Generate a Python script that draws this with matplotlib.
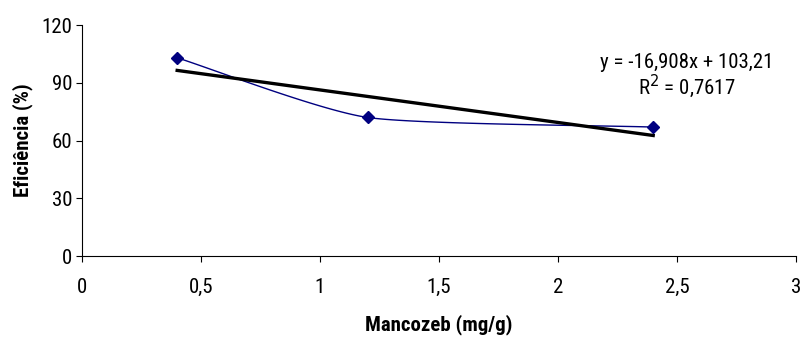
"""Eficiência vs Mancozeb, with Excel-style smoothed line and linear trendline."""
import numpy as np
import matplotlib.pyplot as plt
from matplotlib import font_manager

dose = [0.4, 1.2, 2.4]
eficiencia = [103, 72, 67]
slope, intercept = -16.908, 103.21
r2_label = "0,7617"

x_ticks = [0, 0.5, 1, 1.5, 2, 2.5, 3]
x_tick_labels = ["0", "0,5", "1", "1,5", "2", "2,5", "3"]
y_ticks = [0, 30, 60, 90, 120]

names = {f.name for f in font_manager.fontManager.ttflist}
narrow = next((n for n in ("Liberation Sans Narrow", "Arial Narrow", "Roboto Condensed")
               if n in names), None)
if narrow:
    plt.rcParams["font.family"] = [narrow, "DejaVu Sans"]
    fs_tick, fs_note, fs_label = 15, 15, 15
else:
    plt.rcParams["font.family"] = ["Liberation Sans", "DejaVu Sans"]
    fs_tick, fs_note, fs_label = 12, 13, 13


def excel_smooth(xs, ys, n=40, k=0.6):
    # bezier smoothing like Excel's "smoothed line" (damped inner tangents)
    p = np.column_stack([xs, ys]).astype(float)
    pts = [p[0]]
    for i in range(len(p) - 1):
        if i > 0:
            c1 = p[i] + (p[i + 1] - p[i - 1]) / 6 * k
        else:
            c1 = p[i] + (p[i + 1] - p[i]) / 6
        if i + 2 < len(p):
            c2 = p[i + 1] - (p[i + 2] - p[i]) / 6 * k
        else:
            c2 = p[i + 1] - (p[i + 1] - p[i]) / 6
        t = np.linspace(0, 1, n)[1:, None]
        seg = ((1 - t) ** 3 * p[i] + 3 * (1 - t) ** 2 * t * c1
               + 3 * (1 - t) * t ** 2 * c2 + t ** 3 * p[i + 1])
        pts.extend(seg)
    pts = np.array(pts)
    return pts[:, 0], pts[:, 1]


fig = plt.figure(figsize=(8.06, 3.39), dpi=100)
ax = fig.add_axes([0.1017, 0.2448, 0.8859, 0.6812])

sx, sy = excel_smooth(dose, eficiencia)
ax.plot(sx, sy, color="#000080", lw=1.0, zorder=2)
ax.plot(dose, eficiencia, ls="none", marker="D", ms=6, color="#000080", zorder=4)

tx = np.array([min(dose), max(dose)])
ax.plot(tx, slope * tx + intercept, color="black", lw=2.4, zorder=3)

ax.text(2.54, 100.8, f"y = {slope:.3f}x + {intercept:.2f}".replace(".", ","),
        ha="center", va="center", fontsize=fs_note)
ax.text(2.54, 88.3, "R$^2$ = " + r2_label, ha="center", va="center", fontsize=fs_note)

ax.set_xlim(0, 3)
ax.set_ylim(0, 120)
ax.set_xticks(x_ticks)
ax.set_xticklabels(x_tick_labels)
ax.set_yticks(y_ticks)
ax.tick_params(labelsize=fs_tick, length=4, width=0.8, pad=12)
ax.tick_params(axis="y", pad=3)
for s in ("top", "right"):
    ax.spines[s].set_visible(False)

ax.set_xlabel("Mancozeb (mg/g)", fontsize=fs_label, fontweight="bold", labelpad=12)
ax.set_ylabel("Eficiência (%)", fontsize=fs_label, fontweight="bold", labelpad=6)

fig.savefig("out.png", dpi=100)
